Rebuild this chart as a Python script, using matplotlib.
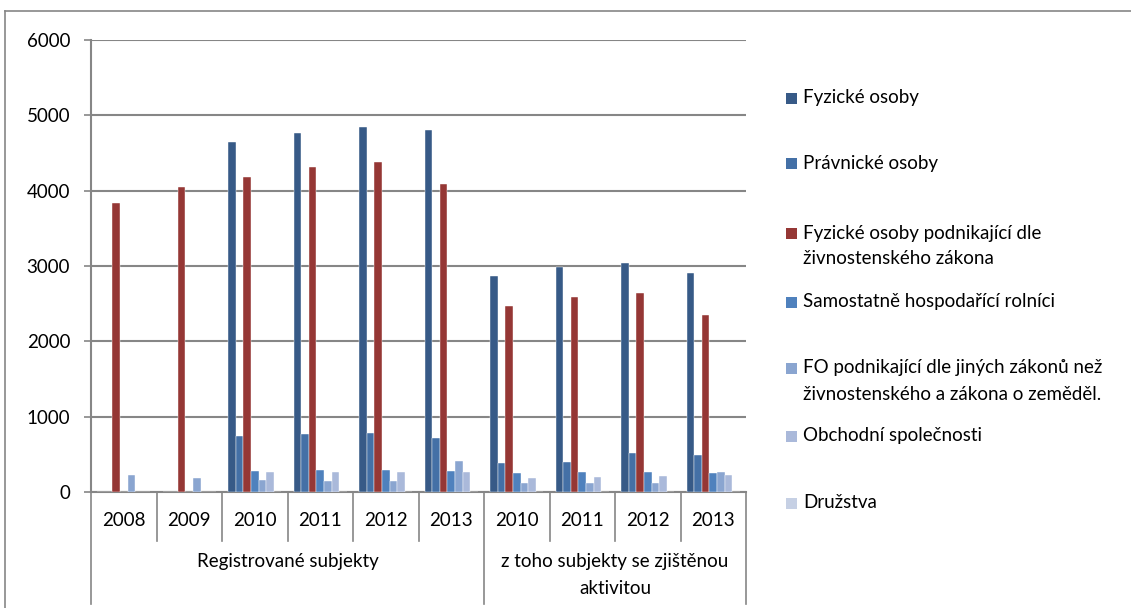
import numpy as np
import matplotlib
matplotlib.use("Agg")
import matplotlib.pyplot as plt
from matplotlib.patches import Rectangle
from matplotlib.lines import Line2D

plt.rcParams['font.family'] = ['Lato', 'DejaVu Sans']

years = ['2008', '2009', '2010', '2011', '2012', '2013',
         '2010', '2011', '2012', '2013']
groups = ['Registrované subjekty', 'z toho subjekty se zjištěnou\naktivitou']
group_sizes = [6, 4]

series_names = [
    'Fyzické osoby',
    'Právnické osoby',
    'Fyzické osoby podnikající dle\nživnostenského zákona',
    'Samostatně hospodařící rolníci',
    'FO podnikající dle jiných zákonů než\nživnostenského a zákona o zeměděl.',
    'Obchodní společnosti',
    'Družstva',
]
fyzicke = [0, 0, 4646, 4766, 4845, 4805, 2867, 2991, 3044, 2903]
pravnicke = [0, 0, 743, 770, 779, 721, 385, 398, 518, 496]
zivnost = [3832, 4045, 4186, 4310, 4381, 4090, 2473, 2584, 2642, 2354]
rolnici = [0, 0, 279, 288, 288, 279, 252, 265, 265, 252]
fo_jine = [226, 181, 155, 146, 150, 416, 115, 115, 119, 265]
obchodni = [0, 0, 265, 265, 265, 270, 190, 195, 212, 221]
druzstva = [0, 0, 0, 0, 0, 0, 0, 0, 0, 0]
values = [fyzicke, pravnicke, zivnost, rolnici, fo_jine, obchodni, druzstva]

colors = ['#375a87', '#4470a6', '#953735', '#4f81bd',
          '#8aa5d0', '#aab9da', '#c6d0e4']
legend_y = [98, 164, 233, 302, 368, 436, 503]

W, H = 1131, 608
FS = 13.5
fig = plt.figure(figsize=(W / 100, H / 100), dpi=100)
grey = '#868686'

# frame round the whole chart
fig.add_artist(Line2D([5 / W, 5 / W], [0, 1 - 11 / H], color=grey, lw=1.2))
fig.add_artist(Line2D([5 / W, 1], [1 - 11 / H, 1 - 11 / H], color=grey, lw=1.2))

left, right, top, bottom = 91, 746, 40, 492
ax = fig.add_axes([left / W, 1 - bottom / H, (right - left) / W, (bottom - top) / H])

n = len(years)
x = np.arange(n)
bw = 0.116
for i, (vals, c) in enumerate(zip(values, colors)):
    ax.bar(x + (i - 3) * bw, vals, bw, color=c, edgecolor='white',
           linewidth=0.3, zorder=3)

ax.set_xlim(-0.5, n - 0.5)
ax.set_ylim(0, 6000)
ax.set_yticks(range(0, 6001, 1000))
ax.yaxis.grid(True, color=grey, lw=1.5, zorder=0)
ax.set_xticks([])
for s in ['top', 'right']:
    ax.spines[s].set_visible(False)
for s in ['left', 'bottom']:
    ax.spines[s].set_color(grey)
    ax.spines[s].set_linewidth(1.5)
ax.tick_params(axis='y', colors=grey, length=5, width=1.2, pad=10,
               labelcolor='black', labelsize=FS)


def fy(py):
    return 1 - py / H


def fx(xd):
    return (left + (xd + 0.5) / n * (right - left)) / W


# category labels and separators below the axis
for i, yr in enumerate(years):
    fig.text(fx(i), fy(521), yr, ha='center', va='center', fontsize=FS)
bounds = np.cumsum([0] + group_sizes)
for b in range(n + 1):
    xb = fx(b - 0.5)
    y_end = 604 if b in bounds else 541
    fig.add_artist(Line2D([xb, xb], [fy(492), fy(y_end)], color=grey, lw=1.2))
for g, name in enumerate(groups):
    xc = fx((bounds[g] + bounds[g + 1] - 1) / 2)
    for k, ln in enumerate(name.split('\n')):
        fig.text(xc, fy(561 + 28 * k), ln, ha='center', va='center', fontsize=FS)

# legend
for name, c, ly in zip(series_names, colors, legend_y):
    fig.add_artist(Rectangle((786 / W, fy(ly + 5.5)), 11 / W, 11 / H,
                             facecolor=c, edgecolor='none'))
    for k, ln in enumerate(name.split('\n')):
        fig.text(803 / W, fy(ly + 26 * k), ln, ha='left', va='center', fontsize=FS)

fig.savefig('out.png', dpi=100)
